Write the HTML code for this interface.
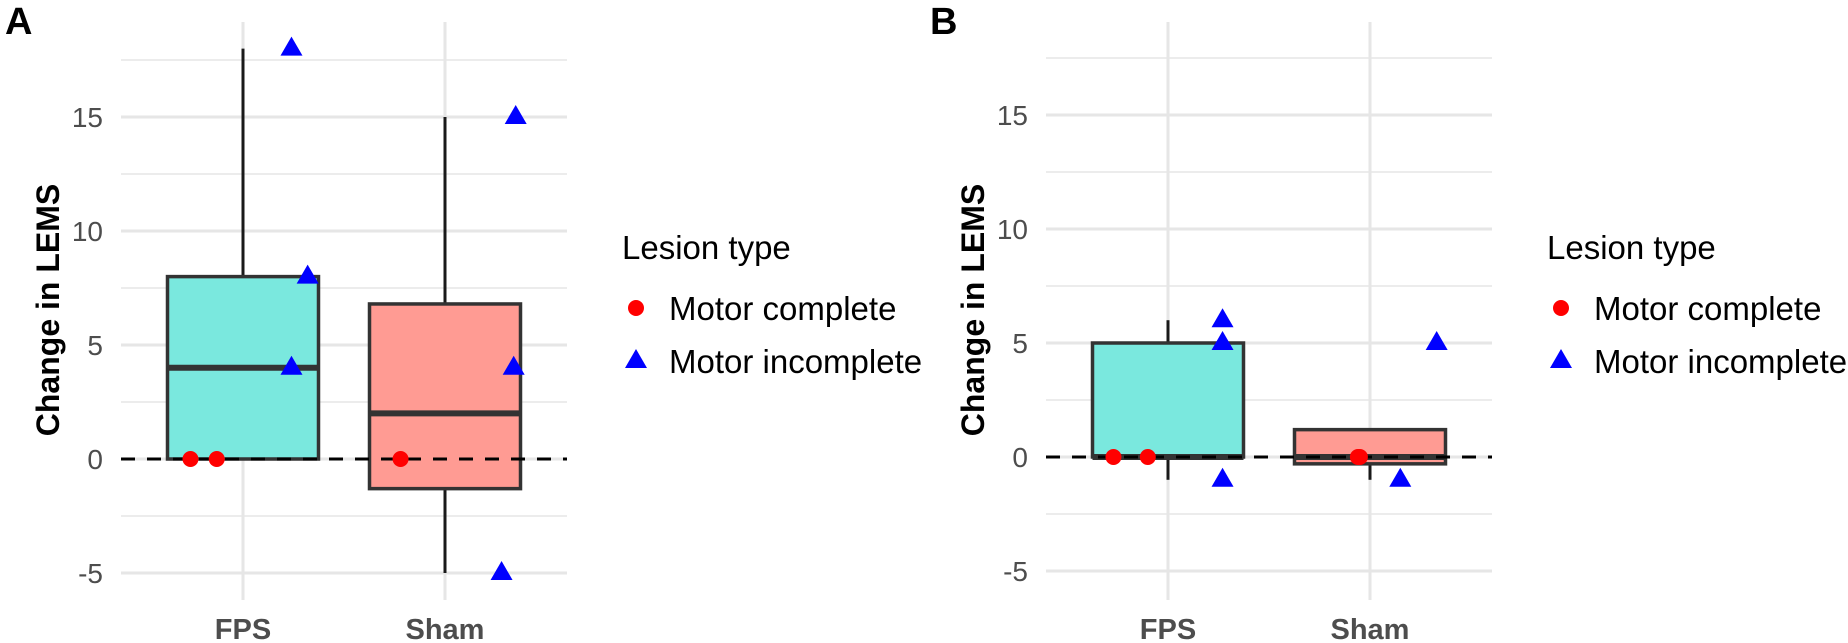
<!DOCTYPE html>
<html><head><meta charset="utf-8"><style>
html,body{margin:0;padding:0;background:#fff;}
svg{display:block;font-family:"Liberation Sans",Arial,sans-serif;}
</style></head><body>
<svg id="chart" width="1848" height="643" viewBox="0 0 1848 643" xmlns="http://www.w3.org/2000/svg"></svg>
<script>
const categories = ["FPS", "Sham"];
const yTicks = [-5, 0, 5, 10, 15];
const yMinor = [-2.5, 2.5, 7.5, 12.5, 17.5];
// box stats [lowWhisker, q1, median, q3, highWhisker]
const boxA_FPS = [0, 0, 4, 8, 18];
const boxA_Sham = [-5, -1.3, 2, 6.8, 15];
const boxB_FPS = [-1, 0, 0, 5, 6];
const boxB_Sham = [-1, -0.3, 0, 1.2, 1.2];
// points: category index, value, jitter offset (category units)
const ptsA_complete = [[0, 0, -0.26], [0, 0, -0.13], [1, 0, -0.22]];
const ptsA_incomplete = [[0, 18, 0.24], [0, 8, 0.32], [0, 4, 0.24], [1, 15, 0.35], [1, 4, 0.34], [1, -5, 0.28]];
const ptsB_complete = [[0, 0, -0.27], [0, 0, -0.1], [1, 0, -0.06], [1, 0, -0.05]];
const ptsB_incomplete = [[0, 6, 0.27], [0, 5, 0.27], [0, -1, 0.27], [1, 5, 0.33], [1, -1, 0.15]];

const NS = "http://www.w3.org/2000/svg";
const svg = document.getElementById("chart");
function mk(tag, attrs, parent) {
  const e = document.createElementNS(NS, tag);
  for (const k in attrs) e.setAttribute(k, attrs[k]);
  (parent || svg).appendChild(e);
  return e;
}

function panel(cfg) {
  const g = mk("g", {});
  
  
  const unit = 22.8, step = 202;
  const y = v => cfg.zeroY - v * unit;
  const x = c => cfg.x0 + c * step;
  const left = cfg.x0 - 122, right = cfg.x0 + step + 122;
  const top = 22, bottom = 600;
  yMinor.forEach(v => {
    const l = mk("line", {x1: left, x2: right, y1: y(v), y2: y(v), stroke: "#ececec", "stroke-width": 2}, g);
    
    
  });
  yTicks.forEach(v => {
    const l = mk("line", {x1: left, x2: right, y1: y(v), y2: y(v), stroke: "#e6e6e6", "stroke-width": 3}, g);
    
    
    const t = mk("text", {x: cfg.x0 - 140, y: y(v) + 10, "text-anchor": "end", "font-size": 28, fill: "#4d4d4d"}, g);
    t.textContent = v;
    
    
  });
  categories.forEach((c, i) => {
    const l = mk("line", {x1: x(i), x2: x(i), y1: top, y2: bottom, stroke: "#e6e6e6", "stroke-width": 3}, g);
    
    
    const t = mk("text", {x: x(i), y: 639, "text-anchor": "middle", "font-size": 29, "font-weight": "bold", fill: "#4d4d4d"}, g);
    t.textContent = c;
    
    
  });
  const fills = ["#7ae8de", "#ff9b93"];
  cfg.boxes.forEach((b, i) => {
    const cx = x(i), hw = 75.5;
    const w1 = mk("line", {x1: cx, x2: cx, y1: y(b[3]), y2: y(b[4]), stroke: "#1a1a1a", "stroke-width": 3}, g);
    
    
    const w2 = mk("line", {x1: cx, x2: cx, y1: y(b[1]), y2: y(b[0]), stroke: "#1a1a1a", "stroke-width": 3}, g);
    
    
    const r = mk("rect", {x: cx - hw, y: y(b[3]), width: hw * 2, height: y(b[1]) - y(b[3]), fill: fills[i], stroke: "#333", "stroke-width": 3.5}, g);
    
    
    const m = mk("line", {x1: cx - hw, x2: cx + hw, y1: y(b[2]), y2: y(b[2]), stroke: "#333", "stroke-width": 6}, g);
    
    
  });
  const z = mk("line", {x1: left, x2: right, y1: y(0), y2: y(0), stroke: "#000", "stroke-width": 3, "stroke-dasharray": "14,12"}, g);
  
  
  cfg.complete.forEach(p => {
    const c = mk("circle", {cx: x(p[0] + p[2]), cy: y(p[1]), r: 8, fill: "#ff0000"}, g);
    
    
  });
  cfg.incomplete.forEach(p => {
    const px = x(p[0] + p[2]), py = y(p[1]);
    const t = mk("polygon", {points: `${px - 11},${py + 7} ${px + 11},${py + 7} ${px},${py - 12}`, fill: "#0000ff"}, g);
    
    
  });
  const at = mk("text", {x: 0, y: 0, transform: `translate(${cfg.x0 - 184},310) rotate(-90)`, "text-anchor": "middle", "font-size": 32, "font-weight": "bold", fill: "#000"}, g);
  at.textContent = "Change in LEMS";
  
  
  const L = mk("text", {x: cfg.x0 - 238, y: 34, "font-size": 38, "font-weight": "bold", fill: "#000"}, g);
  L.textContent = cfg.letter;
  
  
  const lg = mk("g", {}, g);
  
  
  const lx = cfg.x0 + 379;
  const lt = mk("text", {x: lx, y: 259, "font-size": 33, fill: "#000"}, lg);
  lt.textContent = "Lesion type";
  
  
  const kx = lx + 14;
  const c1 = mk("circle", {cx: kx, cy: 308, r: 8, fill: "#ff0000"}, lg);
  
  
  const t1 = mk("text", {x: lx + 47, y: 320, "font-size": 33, fill: "#000"}, lg);
  t1.textContent = "Motor complete";
  
  
  const ky = 361;
  const p2 = mk("polygon", {points: `${kx - 11},${ky + 7} ${kx + 11},${ky + 7} ${kx},${ky - 12}`, fill: "#0000ff"}, lg);
  
  
  const t2 = mk("text", {x: lx + 47, y: 373, "font-size": 33, fill: "#000"}, lg);
  t2.textContent = "Motor incomplete";
  
  
}

panel({letter: "A", x0: 243, zeroY: 459, boxes: [boxA_FPS, boxA_Sham], complete: ptsA_complete, incomplete: ptsA_incomplete});
panel({letter: "B", x0: 1168, zeroY: 457, boxes: [boxB_FPS, boxB_Sham], complete: ptsB_complete, incomplete: ptsB_incomplete});
</script>
</body></html>
